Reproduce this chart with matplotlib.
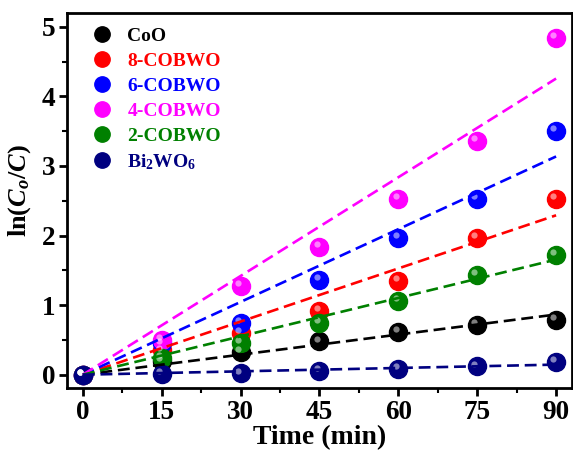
import numpy as np
import matplotlib
matplotlib.use('Agg')
import matplotlib.pyplot as plt
from matplotlib.transforms import offset_copy
from matplotlib.ticker import MultipleLocator

plt.rcParams['font.family'] = 'Liberation Serif'
plt.rcParams['font.weight'] = 'bold'
plt.rcParams['mathtext.fontset'] = 'custom'
plt.rcParams['mathtext.rm'] = 'Liberation Serif:bold'
plt.rcParams['mathtext.it'] = 'Liberation Serif:italic:bold'
plt.rcParams['mathtext.bf'] = 'Liberation Serif:bold'

time = [0, 15, 30, 45, 60, 75, 90]
names = ['CoO', '8-COBWO', '6-COBWO', '4-COBWO', '2-COBWO', 'Bi$_2$WO$_6$']
colors = ['#000000', '#ff0000', '#0000ff', '#ff00ff', '#008000', '#000080']
coo = [0, 0.20, 0.33, 0.48, 0.62, 0.72, 0.79]
cobwo8 = [0, 0.35, 0.60, 0.92, 1.35, 1.97, 2.53]
cobwo6 = [0, 0.45, 0.75, 1.36, 1.97, 2.53, 3.50]
cobwo4 = [0, 0.50, 1.28, 1.84, 2.53, 3.36, 4.84]
cobwo2 = [0, 0.24, 0.46, 0.74, 1.06, 1.43, 1.72]
bwo = [0, 0.01, 0.02, 0.05, 0.08, 0.12, 0.18]
series = [coo, cobwo8, cobwo6, cobwo4, cobwo2, bwo]

fig = plt.figure(figsize=(5.73, 4.58), dpi=100)
ax = fig.add_axes([0.117, 0.153, 0.881, 0.819])

x = np.array(time, dtype=float)
hl = offset_copy(ax.transData, fig=fig, x=-2.0, y=2.0, units='points')
handles = []
for y, c, n in zip(series, colors, names):
    y = np.array(y)
    k = np.sum(x * y) / np.sum(x * x)  # linear fit through origin
    xf = np.array([0, 90])
    ax.plot(xf, k * xf, ls=(0, (4.5, 2.2)), color=c, lw=1.9, zorder=4)
    h, = ax.plot(x, y, 'o', ms=13, color=c, mec=c, zorder=3, label=n)
    ax.plot(x, y, 'o', ms=4.5, color='white', mec='none', alpha=0.5,
            transform=hl, zorder=3.5)
    handles.append(h)

ax.set_xlim(-3, 93)
ax.set_ylim(-0.19, 5.2)
ax.xaxis.set_major_locator(MultipleLocator(15))
ax.xaxis.set_minor_locator(MultipleLocator(7.5))
ax.yaxis.set_major_locator(MultipleLocator(1))
ax.yaxis.set_minor_locator(MultipleLocator(0.5))
ax.tick_params(which='major', direction='out', length=5.5, width=2,
               labelsize=19.5, pad=3, top=False, right=False)
ax.tick_params(which='minor', direction='out', length=3.5, width=1.5,
               top=False, right=False)
for s in ax.spines.values():
    s.set_linewidth(2)

ax.set_xlabel('Time (min)', fontsize=20, fontweight='bold', labelpad=0)
ax.set_ylabel(r'ln($\mathit{C_o}$/$\mathit{C}$)', fontsize=19,
              fontweight='bold')
ax.yaxis.set_label_coords(-0.067, 0.525)

leg = ax.legend(handles=handles, loc='upper left', frameon=False,
                bbox_to_anchor=(0.05, 0.962), borderaxespad=0, borderpad=0,
                fontsize=14, handlelength=1.0, handletextpad=0.8,
                labelspacing=0.38, markerscale=0.85)
for t, c in zip(leg.get_texts(), colors):
    t.set_color(c)

fig.savefig('out.png', dpi=100)
